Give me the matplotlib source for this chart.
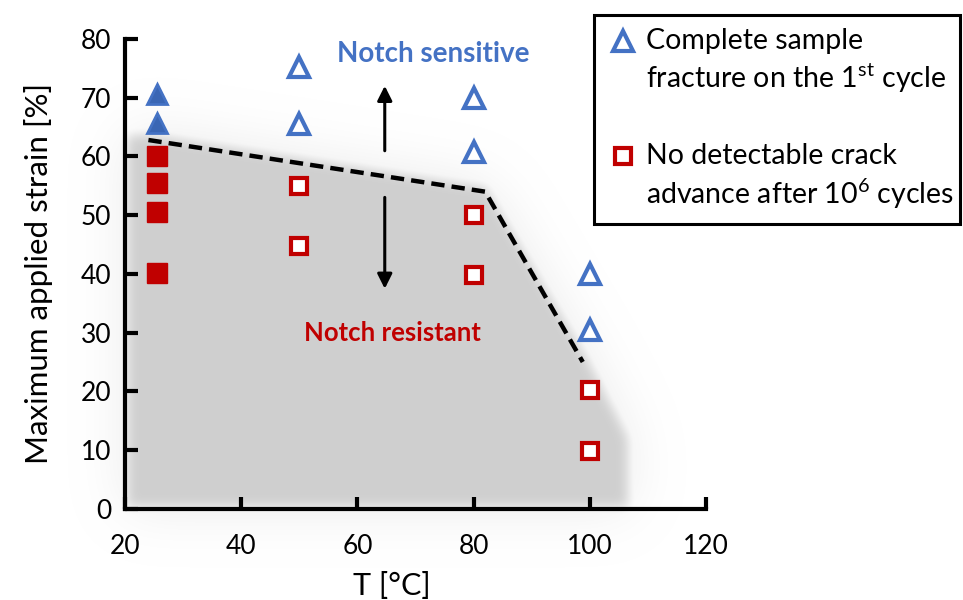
import numpy as np
import matplotlib.pyplot as plt
from matplotlib.path import Path
from matplotlib.lines import Line2D
from matplotlib.patches import Rectangle

plt.rcParams['font.family'] = ['Lato', 'DejaVu Sans']
plt.rcParams['mathtext.fontset'] = 'custom'
plt.rcParams['mathtext.rm'] = 'Lato'

blue = '#4472C4'
red = '#C00000'

# data
t_frac_full = [25.5, 25.5]
s_frac_full = [70.7, 65.7]
t_frac_open = [50, 50, 80, 80, 100, 100]
s_frac_open = [75.2, 65.5, 70.0, 60.7, 40.0, 30.5]

t_ok_full = [25.5, 25.5, 25.5, 25.5]
s_ok_full = [60.1, 55.5, 50.6, 40.2]
t_ok_open = [50, 50, 80, 80, 100, 100]
s_ok_open = [55.0, 44.7, 50.1, 39.8, 20.2, 9.8]

# boundary line (dashed)
t_bound = [24.0, 82.0, 98.8]
s_bound = [62.8, 54.0, 25.0]

# shaded "safe" region outline
t_region = [20.0, 24.0, 82.0, 99.5, 106.5, 106.5, 20.0]
s_region = [63.5, 63.8, 54.8, 25.5, 12.0, 0.0, 0.0]

fig = plt.figure(figsize=(9.63, 6.0), dpi=100)
ax = fig.add_axes([0.130, 0.152, 0.603, 0.783])


def blur(m, sig):
    n = int(3 * sig)
    k = np.exp(-0.5 * (np.arange(-n, n + 1) / sig) ** 2)
    k /= k.sum()
    m = np.apply_along_axis(lambda r: np.convolve(r, k, mode='same'), 1, m)
    return np.apply_along_axis(lambda c: np.convolve(c, k, mode='same'), 0, m)


# soft-edged grey region with a faint outer halo
gx = np.arange(8, 120, 0.2)
gy = np.arange(-12, 76, 0.2)
GX, GY = np.meshgrid(gx, gy)
path = Path(np.column_stack([t_region, s_region]))
mask = path.contains_points(np.column_stack([GX.ravel(), GY.ravel()])).reshape(GX.shape).astype(float)
core = blur(mask, 5.0)
halo = blur(mask, 22.0)
alpha = np.clip(np.maximum(core, 0.45 * halo), 0, 1)
rgba = np.zeros(mask.shape + (4,))
rgba[..., :3] = 0.815
rgba[..., 3] = alpha
im = ax.imshow(rgba, extent=[gx[0], gx[-1], gy[0], gy[-1]], origin='lower',
               aspect='auto', zorder=0, interpolation='bilinear')
im.set_clip_on(False)
ax.set_xlim(20, 120)
ax.set_ylim(0, 80)

ax.plot(t_bound, s_bound, '--', color='black', lw=3.2, dashes=(3, 1.6), zorder=3)

ax.plot(t_frac_full, s_frac_full, '^', ms=15, mfc='#3a66b4', mec=blue, mew=2, ls='none', zorder=4)
ax.plot(t_frac_open, s_frac_open, '^', ms=14, mfc='white', mec=blue, mew=3, ls='none', zorder=4)
ax.plot(t_ok_full, s_ok_full, 's', ms=14, mfc=red, mec=red, mew=1, ls='none', zorder=4)
ax.plot(t_ok_open, s_ok_open, 's', ms=12, mfc='white', mec=red, mew=3, ls='none', zorder=4)

ax.annotate('', xy=(64.7, 72.5), xytext=(64.7, 60.5),
            arrowprops=dict(arrowstyle='-|>', lw=2.2, color='black', mutation_scale=22))
ax.annotate('', xy=(64.7, 37.0), xytext=(64.7, 53.5),
            arrowprops=dict(arrowstyle='-|>', lw=2.2, color='black', mutation_scale=22))
ax.text(73.0, 77.5, 'Notch sensitive', color=blue, fontsize=20, fontweight='bold',
        ha='center', va='center')
ax.text(66, 30, 'Notch resistant', color=red, fontsize=18.5, fontweight='bold',
        ha='center', va='center')

for s in ['top', 'right']:
    ax.spines[s].set_visible(False)
for s in ['left', 'bottom']:
    ax.spines[s].set_linewidth(3)
ax.set_xticks([20, 40, 60, 80, 100, 120])
ax.set_yticks(np.arange(0, 81, 10))
ax.tick_params(direction='in', length=9, width=3, labelsize=19)
ax.tick_params(axis='x', pad=18)
ax.tick_params(axis='y', pad=10)
ax.set_xlabel('T [°C]', fontsize=22, labelpad=0)
ax.xaxis.set_label_coords(0.46, -0.135)
ax.set_ylabel('Maximum applied strain [%]', fontsize=22.5, labelpad=20)

# legend drawn by hand so markers sit on the first text line
fig.patches.append(Rectangle((0.617, 0.627), 0.38, 0.348, transform=fig.transFigure,
                             fill=False, ec='black', lw=2.2))
fig.lines.append(Line2D([0.647], [0.932], transform=fig.transFigure, marker='^', ms=14,
                        mfc='white', mec=blue, mew=3, ls='none'))
fig.lines.append(Line2D([0.647], [0.740], transform=fig.transFigure, marker='s', ms=12,
                        mfc='white', mec=red, mew=3, ls='none'))
fig.text(0.671, 0.932, 'Complete sample', fontsize=20.5, va='center')
fig.text(0.671, 0.870, r'fracture on the 1$^{\mathrm{st}}$ cycle', fontsize=20.5, va='center')
fig.text(0.671, 0.740, 'No detectable crack', fontsize=20.5, va='center')
fig.text(0.671, 0.677, r'advance after 10$^{6}$ cycles', fontsize=20.5, va='center')

fig.savefig('out.png', dpi=100)
